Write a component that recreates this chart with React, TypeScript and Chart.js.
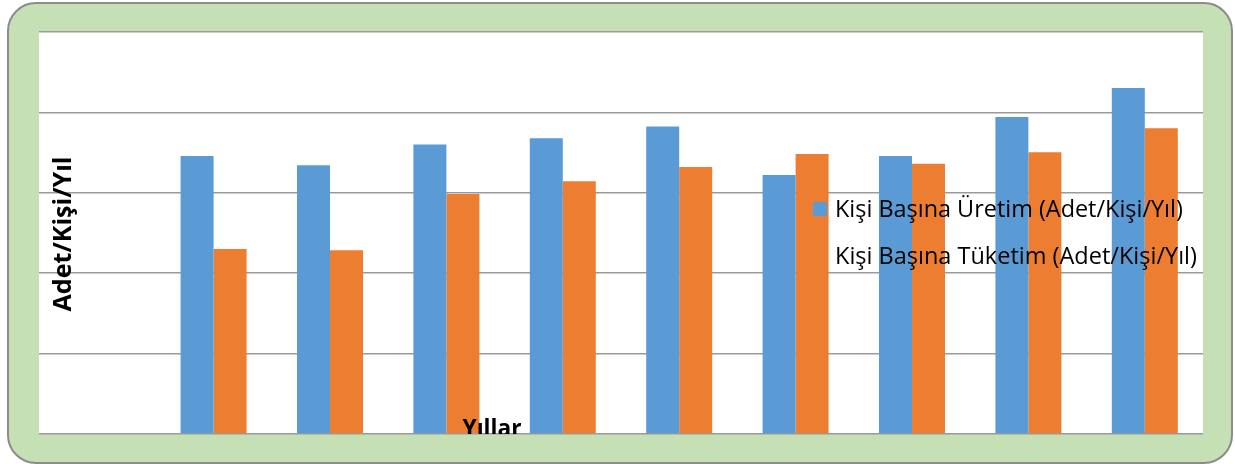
import React, { useEffect, useRef } from "react";
import { Chart, registerables } from "chart.js";

Chart.register(...registerables);

const years = ["2004", "2005", "2006", "2007", "2008", "2009", "2010", "2011", "2012", "2013"];
const uretim = [null, 172.9, 167.2, 180.0, 183.9, 191.2, 161.1, 172.9, 197.2, 215.1];
const tuketim = [null, 115.0, 114.2, 149.3, 157.2, 166.1, 174.2, 168.0, 175.2, 190.2];
const seriesNames = ["Kişi Başına Üretim (Adet/Kişi/Yıl)", "Kişi Başına Tüketim (Adet/Kişi/Yıl)"];
const seriesColors = ["#5B9BD5", "#ED7D31"];
const yTitle = "Adet/Kişi/Yıl";
const xTitle = "Yıllar";
const FONT = "'Open Sans', 'Noto Sans', sans-serif";

function fitSize(ctx: CanvasRenderingContext2D, text: string, weight: string, target: number) {
  ctx.font = `${weight} 100px ${FONT}`;
  const w = ctx.measureText(text).width;
  return (100 * target) / w;
}

function roundRect(ctx: CanvasRenderingContext2D, x: number, y: number, w: number, h: number, r: number) {
  ctx.beginPath();
  ctx.moveTo(x + r, y);
  ctx.lineTo(x + w - r, y);
  ctx.arcTo(x + w, y, x + w, y + r, r);
  ctx.lineTo(x + w, y + h - r);
  ctx.arcTo(x + w, y + h, x + w - r, y + h, r);
  ctx.lineTo(x + r, y + h);
  ctx.arcTo(x, y + h, x, y + h - r, r);
  ctx.lineTo(x, y + r);
  ctx.arcTo(x, y, x + r, y, r);
  ctx.closePath();
}

const framePlugin = {
  id: "frame",
  beforeDraw(chart: any) {
    const ctx: CanvasRenderingContext2D = chart.ctx;
    const a = chart.chartArea;
    ctx.save();
    roundRect(ctx, 8, 3, 1224, 460, 28);
    ctx.fillStyle = "#C5E0B4";
    ctx.fill();
    ctx.lineWidth = 2;
    ctx.strokeStyle = "#8C8C8C";
    ctx.stroke();
    ctx.fillStyle = "#FFFFFF";
    ctx.fillRect(a.left, a.top, a.right - a.left, a.bottom - a.top);
    ctx.restore();
  },
  afterDatasetsDraw(chart: any) {
    const ctx: CanvasRenderingContext2D = chart.ctx;
    const a = chart.chartArea;
    ctx.save();
    // y axis title
    const ys = fitSize(ctx, yTitle, "bold", 155);
    ctx.font = `bold ${ys}px ${FONT}`;
    ctx.fillStyle = "#000";
    ctx.translate(71, 234);
    ctx.rotate(-Math.PI / 2);
    ctx.textAlign = "center";
    ctx.textBaseline = "alphabetic";
    ctx.fillText(yTitle, 0, 0);
    ctx.restore();

    // x axis title, clipped to plot area
    ctx.save();
    ctx.beginPath();
    ctx.rect(a.left, a.top, a.right - a.left, a.bottom - a.top);
    ctx.clip();
    const xs = fitSize(ctx, xTitle, "bold", 59);
    ctx.font = `bold ${xs}px ${FONT}`;
    ctx.fillStyle = "#000";
    ctx.textAlign = "center";
    ctx.textBaseline = "alphabetic";
    ctx.fillText(xTitle, 492, 436);
    ctx.restore();

    // legend
    ctx.save();
    const targets = [348, 362];
    const centers = [209, 256];
    chart.data.datasets.forEach((ds: any, i: number) => {
      ctx.fillStyle = ds.backgroundColor;
      ctx.fillRect(813, centers[i] - 7, 14, 14);
      const s = fitSize(ctx, ds.label, "normal", targets[i]);
      ctx.font = `normal ${s}px ${FONT}`;
      ctx.fillStyle = "#000";
      ctx.textAlign = "left";
      ctx.textBaseline = "middle";
      ctx.fillText(ds.label, 835, centers[i] + 1);
    });
    ctx.restore();
  },
};

export default function App() {
  const ref = useRef<HTMLCanvasElement>(null);
  useEffect(() => {
    if (!ref.current) return;
    const chart = new Chart(ref.current, {
      type: "bar",
      data: {
        labels: years,
        datasets: [
          { label: seriesNames[0], data: uretim as any, backgroundColor: seriesColors[0], borderWidth: 0 },
          { label: seriesNames[1], data: tuketim as any, backgroundColor: seriesColors[1], borderWidth: 0 },
        ],
      },
      options: {
        animation: false,
        responsive: true,
        maintainAspectRatio: false,
        layout: { padding: { left: 39, right: 32, top: 32, bottom: 30 } },
        datasets: { bar: { categoryPercentage: 0.567, barPercentage: 1.0 } },
        plugins: { legend: { display: false }, tooltip: { enabled: false }, title: { display: false } },
        scales: {
          x: { display: false },
          y: {
            display: true,
            min: 0,
            max: 250,
            ticks: { display: false, stepSize: 50 },
            border: { display: false },
            grid: { color: "#9A9A9A", lineWidth: 1.5, drawTicks: false, tickLength: 0 },
          },
        },
      },
      plugins: [framePlugin],
    });
    return () => chart.destroy();
  }, []);
  return (
    <div style={{ position: "absolute", left: 0, top: 0, width: 1235, height: 464, background: "#fff" }}>
      <canvas ref={ref} />
    </div>
  );
}
